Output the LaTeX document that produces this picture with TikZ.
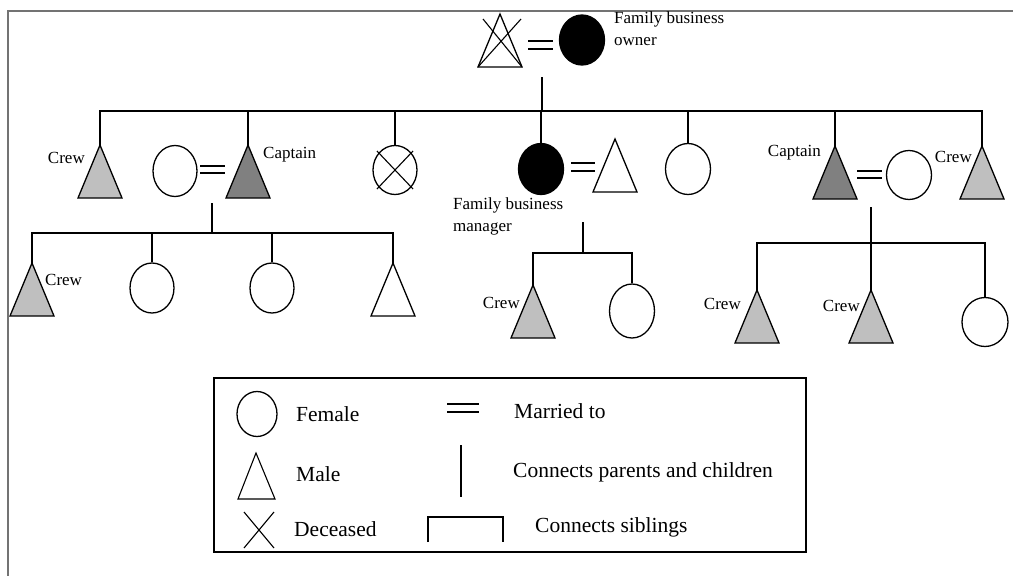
\documentclass[tikz,border=0pt]{standalone}
\usepackage{fontspec}
\setmainfont{Liberation Serif}
\usetikzlibrary{shapes.geometric}

% pedigree symbols and connectors
\tikzset{
  conn/.style={line width=2.4pt},
  outline/.style={line width=1.3pt},
  thin/.style={line width=1.1pt},
  female/.style={ellipse, draw, outline, inner sep=0pt, minimum width=44pt, minimum height=51pt},
  owner/.style={female, fill=black},
  crewfill/.style={fill=gray!50},
  captfill/.style={fill=gray},
  lbl/.style={inner sep=0pt, font=\fontsize{17}{22}\selectfont, align=left},
  key/.style={inner sep=0pt, font=\fontsize{21.5}{26}\selectfont},
  frame/.style={line width=2pt, draw=black!55},
}

% male symbol: apex coordinate #1 at (#2,#3), extra path options #4
\newcommand{\maletri}[4]{%
  \coordinate (#1) at (#2,#3);
  \draw[outline,#4] (#1) -- ++(-22,53) -- ++(44,0) -- cycle;}

% marriage sign from x=#1 to x=#2, lines at y=#3 and y=#4
\newcommand{\wed}[4]{%
  \draw[thin] (#1,#3) -- (#2,#3) (#1,#4) -- (#2,#4);}

\begin{document}
\begin{tikzpicture}[x=1pt,y=-1pt]
\useasboundingbox (0,0) rectangle (1013,576);
\draw[frame] (8,576) -- (8,11) -- (1013,11);

% ---------- founding couple ----------
\maletri{gf}{500}{14}{fill=white}
\draw[thin] (483,19) -- (522,67) (521,19) -- (478,67);
\wed{528}{553}{41}{49}
\node[owner, minimum width=45pt, minimum height=50pt] (gm) at (582,40) {};
\node[lbl, anchor=west] (gmlbl) at (614,29) {Family business\\owner};
\coordinate (gcpl) at (542,77);

% ---------- second generation ----------
\coordinate (sib1) at (542,111);
\maletri{crewA}{100}{145}{crewfill}
\node[lbl, anchor=east] (crewAl) at (85,158) {Crew};
\node[female] (wifeA) at (175,171) {};
\wed{200}{225}{166}{173}
\maletri{captA}{248}{145}{captfill}
\node[lbl, anchor=west] (captAl) at (263,155) {Captain};

\node[female, minimum height=49pt] (dead) at (395,170) {};
\draw[thin] (377,151) -- (413,189) (413,151) -- (377,189);

\node[owner, minimum width=45pt, minimum height=51pt] (mgr) at (541,169) {};
\wed{571}{595}{163}{171}
\maletri{husb}{615}{139}{fill=white}
\node[lbl, anchor=west] (mgrl) at (453,216) {Family business\\manager};

\node[female, minimum width=45pt] (sisB) at (688,169) {};

\maletri{captB}{835}{146}{captfill}
\node[lbl, anchor=east] (captBl) at (821,153) {Captain};
\wed{857}{882}{171}{178}
\node[female, minimum width=45pt, minimum height=49pt] (wifeB) at (909,175) {};
\maletri{crewB}{982}{146}{crewfill}
\node[lbl, anchor=east] (crewBl) at (972,157) {Crew};

\draw[conn] (gcpl) -- (sib1);
\draw[conn] (crewA) -- (crewA |- sib1) -- (crewB |- sib1) -- (crewB);
\draw[conn] (captA) -- (captA |- sib1);
\draw[conn] (dead.north) -- (dead.north |- sib1);
\draw[conn] (mgr.north) -- (mgr.north |- sib1);
\draw[conn] (sisB.north) -- (sisB.north |- sib1);
\draw[conn] (captB) -- (captB |- sib1);

% ---------- third generation, left family ----------
\coordinate (cplA) at (212,203);
\coordinate (sibA) at (212,233);
\maletri{kA1}{32}{263}{crewfill}
\node[lbl, anchor=west] (kA1l) at (45,280) {Crew};
\node[female, minimum height=50pt] (kA2) at (152,288) {};
\node[female, minimum height=50pt] (kA3) at (272,288) {};
\maletri{kA4}{393}{263}{fill=white}
\draw[conn] (cplA) -- (sibA);
\draw[conn] (kA1) -- (kA1 |- sibA) -- (kA4 |- sibA) -- (kA4);
\draw[conn] (kA2.north) -- (kA2.north |- sibA);
\draw[conn] (kA3.north) -- (kA3.north |- sibA);

% ---------- third generation, middle family ----------
\coordinate (cplM) at (583,222);
\coordinate (sibM) at (583,253);
\maletri{kM1}{533}{285}{crewfill}
\node[lbl, anchor=east] (kM1l) at (520,303) {Crew};
\node[female, minimum width=45pt, minimum height=54pt] (kM2) at (632,311) {};
\draw[conn] (cplM) -- (sibM);
\draw[conn] (kM1) -- (kM1 |- sibM) -- (kM2.north |- sibM) -- (kM2.north);

% ---------- third generation, right family ----------
\coordinate (cplB) at (871,207);
\coordinate (sibB) at (871,243);
\maletri{kB1}{757}{290}{crewfill}
\node[lbl, anchor=east] (kB1l) at (741,304) {Crew};
\maletri{kB2}{871}{290}{crewfill}
\node[lbl, anchor=east] (kB2l) at (860,306) {Crew};
\node[female, minimum width=46pt, minimum height=49pt] (kB3) at (985,322) {};
\draw[conn] (cplB) -- (kB2);
\draw[conn] (kB1) -- (kB1 |- sibB) -- (kB3.north |- sibB) -- (kB3.north);

% ---------- key ----------
\draw[outline] (214,378) rectangle (806,552);
\node[female, minimum width=40pt, minimum height=45pt] (kfem) at (257,414) {};
\node[key, anchor=west] (kfeml) at (296,414) {Female};
\wed{447}{479}{404}{412}
\node[key, anchor=west] (kmarl) at (514,411) {Married to};
\coordinate (kmale) at (256,453);
\draw[thin] (kmale) -- ++(-18,46) -- ++(37,0) -- cycle;
\node[key, anchor=west] (kmalel) at (296,474) {Male};
\draw[thin] (461,445) -- (461,497);
\node[key, anchor=west] (kpcl) at (513,472) {Connects parents and children};
\draw[thin] (244,512) -- (274,548) (274,512) -- (244,548);
\node[key, anchor=west] (kdecl) at (294,529) {Deceased};
\draw[thin] (428,542) -- (428,517) -- (503,517) -- (503,542);
\node[key, anchor=west] (ksibl) at (535,527) {Connects siblings};
\end{tikzpicture}
\end{document}
